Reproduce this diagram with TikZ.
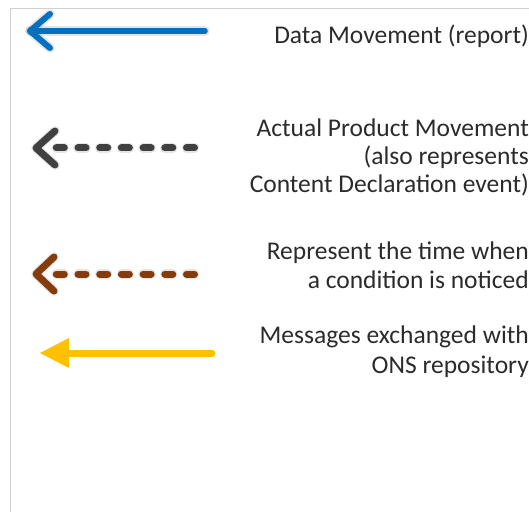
\documentclass[tikz,border=0pt]{standalone}
\usepackage{fontspec}
\setmainfont{Carlito}
\definecolor{datablue}{HTML}{0070C0}
\definecolor{productgray}{HTML}{404040}
\definecolor{conditionbrown}{HTML}{843C0C}
\definecolor{onsyellow}{HTML}{FFC000}
\definecolor{labeltext}{HTML}{2B2B2B}
\definecolor{framegray}{HTML}{D0D0D0}
\begin{document}
\begin{tikzpicture}[x=1bp,y=-1bp,
  legendlabel/.style={font=\fontsize{25.6}{29}\selectfont, text=labeltext,
    inner sep=0pt, anchor=base east},
  chevron/.style={line width=7bp, line cap=round, line join=round},
  dashline/.style={line width=7bp, line cap=round, dash pattern=on 8bp off 13.7bp},
  softshadow/.style={draw=black, opacity=0.10, line width=9.5bp, line cap=round, line join=round}]
\useasboundingbox (0,0) rectangle (529,512);

% frame of the legend panel
\draw[framegray, line width=1.8bp] (10.5,513) -- (10.5,8.5) -- (530,8.5);

% anchor points of the sample arrows
\coordinate (dataS) at (205,31);   \coordinate (dataT) at (30,31);
\coordinate (prodS) at (194.5,148);  \coordinate (prodT) at (36,148);
\coordinate (condS) at (194.5,274);  \coordinate (condT) at (36,274);
\coordinate (onsS)  at (212,353);  \coordinate (onsT)  at (40,353);

% soft shadows under the arrows
\begin{scope}[shift={(2.5,3)}]
  \draw[softshadow] (dataS) -- (dataT);
  \draw[softshadow] ([shift={(20,-17)}]dataT) -- (dataT) -- ([shift={(20,17)}]dataT);
  \draw[softshadow, dash pattern=on 8bp off 13.7bp] (prodS) -- ([xshift=20]prodT);
  \draw[softshadow] ([shift={(19,-17)}]prodT) -- (prodT) -- ([shift={(19,17)}]prodT);
  \draw[softshadow, dash pattern=on 8bp off 13.7bp] (condS) -- ([xshift=20]condT);
  \draw[softshadow] ([shift={(18,-17)}]condT) -- (condT) -- ([shift={(18,17)}]condT);
\end{scope}

% data movement: solid blue with open head
\draw[datablue, line width=5.5bp, line cap=round] (dataS) -- (dataT);
\draw[datablue, chevron, line width=6bp] ([shift={(20,-17)}]dataT) -- (dataT) -- ([shift={(20,17)}]dataT);

% actual product movement: dashed dark gray
\draw[productgray, dashline] (prodS) -- ([xshift=20]prodT);
\draw[productgray, chevron] ([shift={(19,-17)}]prodT) -- (prodT) -- ([shift={(19,17)}]prodT);

% condition noticed: dashed brown
\draw[conditionbrown, dashline] (condS) -- ([xshift=20]condT);
\draw[conditionbrown, chevron] ([shift={(18,-17)}]condT) -- (condT) -- ([shift={(18,17)}]condT);

% ONS messages: solid yellow with filled head
\draw[onsyellow, line width=7bp, line cap=round] (onsS) -- ([xshift=26]onsT);
\fill[onsyellow] (onsT) -- ([shift={(29,-15)}]onsT) -- ([shift={(29,15)}]onsT) -- cycle;

% labels
\node[legendlabel] (l1) at (529,43.2) {Data Movement (report)};
\node[legendlabel] (l2a) at (529,136.5) {Actual Product Movement};
\node[legendlabel] (l2b) at (529,164.5) {(also represents};
\node[legendlabel] (l2c) at (529,193) {Content Declaration event)};
\node[legendlabel] (l3a) at (529,259.5) {Represent the time when};
\node[legendlabel] (l3b) at (529,288) {a condition is noticed};
\node[legendlabel] (l4a) at (529,343.2) {Messages exchanged with};
\node[legendlabel] (l4b) at (529,373) {ONS repository};
\end{tikzpicture}
\end{document}
